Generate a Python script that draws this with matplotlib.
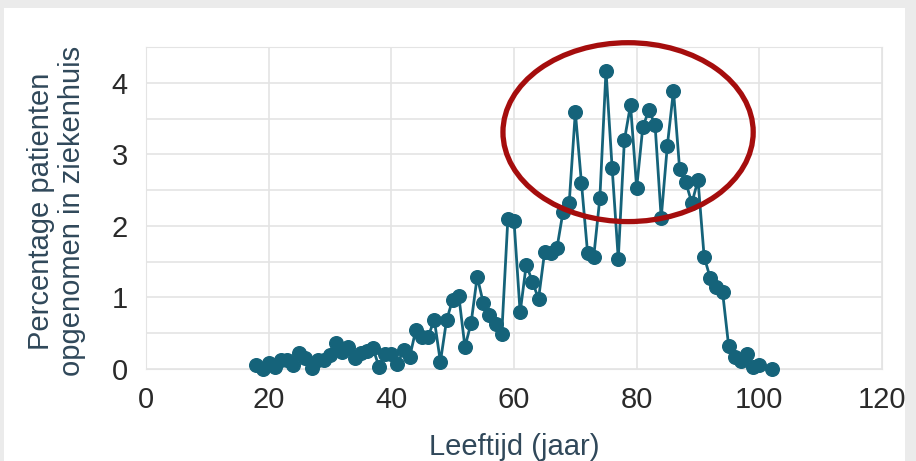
import numpy as np
import matplotlib
matplotlib.use("Agg")
import matplotlib.pyplot as plt
from matplotlib.patches import Ellipse, Rectangle

# Leeftijd (jaar) en percentage patienten opgenomen in ziekenhuis
ages = [18, 19, 20, 21, 22, 23, 24, 25, 26, 27, 28, 29, 30, 31, 32, 33, 34, 35,
        36, 37, 38, 39, 40, 41, 42, 43, 44, 45, 46, 47, 48, 49, 50, 51, 52, 53,
        54, 55, 56, 57, 58, 59, 60, 61, 62, 63, 64, 65, 66, 67, 68, 69, 70, 71,
        72, 73, 74, 75, 76, 77, 78, 79, 80, 81, 82, 83, 84, 85, 86, 87, 88, 89,
        90, 91, 92, 93, 94, 95, 96, 97, 98, 99, 100, 102]
percentage = [0.06, 0.00, 0.08, 0.03, 0.13, 0.13, 0.06, 0.22, 0.15, 0.01, 0.13, 0.13,
              0.19, 0.36, 0.24, 0.31, 0.15, 0.22, 0.25, 0.29, 0.03, 0.21, 0.21, 0.07,
              0.27, 0.17, 0.55, 0.45, 0.45, 0.69, 0.10, 0.68, 0.97, 1.02, 0.31, 0.64,
              1.29, 0.92, 0.75, 0.63, 0.49, 2.10, 2.07, 0.79, 1.46, 1.22, 0.98, 1.64,
              1.62, 1.69, 2.20, 2.32, 3.59, 2.60, 1.62, 1.57, 2.39, 4.17, 2.81, 1.54,
              3.20, 3.69, 2.53, 3.38, 3.62, 3.41, 2.11, 3.12, 3.89, 2.80, 2.61, 2.32,
              2.64, 1.57, 1.27, 1.15, 1.08, 0.32, 0.17, 0.11, 0.21, 0.03, 0.05, 0.00]

x_ticks = [0, 20, 40, 60, 80, 100, 120]
y_ticks = [0, 1, 2, 3, 4]

plt.rcParams["font.family"] = ["Liberation Sans", "DejaVu Sans"]

fig = plt.figure(figsize=(9.16, 4.61), dpi=100)
fig.patch.set_facecolor("#ebebeb")
# white panel behind the chart
fig.patches.append(Rectangle((4 / 916, 0), 901 / 916, 453 / 461,
                             transform=fig.transFigure, facecolor="white",
                             edgecolor="none", zorder=-5))

ax = fig.add_axes([146 / 916, 92 / 461, 736 / 916, 322 / 461])
ax.set_facecolor("white")

ax.plot(ages, percentage, color="#15637a", linewidth=2.0, marker="o",
        markersize=9.8, clip_on=False, zorder=3)

ax.set_xlim(0, 120)
ax.set_ylim(0, 4.5)
ax.set_xticks(x_ticks)
ax.set_yticks(y_ticks)
ax.set_yticks(np.arange(0, 4.51, 0.5), minor=True)
ax.grid(True, which="both", color="#e4e4e4", linewidth=1.2)
ax.set_axisbelow(True)
ax.tick_params(which="both", length=0)
ax.tick_params(axis="x", labelsize=21, pad=12, colors="#2a2a2a")
ax.tick_params(axis="y", labelsize=21, pad=13, colors="#2a2a2a")
for s in ax.spines.values():
    s.set_color("#e4e4e4")

ax.set_xlabel("Leeftijd (jaar)", fontsize=21, color="#30485a", labelpad=14)
ax.set_ylabel("Percentage patienten\nopgenomen in ziekenhuis", fontsize=21,
              color="#30485a", linespacing=1.1)
ax.yaxis.set_label_coords(-0.082, 0.49)

# red highlight circle around the peak
ax.add_patch(Ellipse((78.6, 3.31), 40.8, 2.5, fill=False, edgecolor="#a50d0d",
                     linewidth=3.8, clip_on=False, zorder=4))

fig.savefig("out.png", dpi=100, facecolor=fig.get_facecolor())
